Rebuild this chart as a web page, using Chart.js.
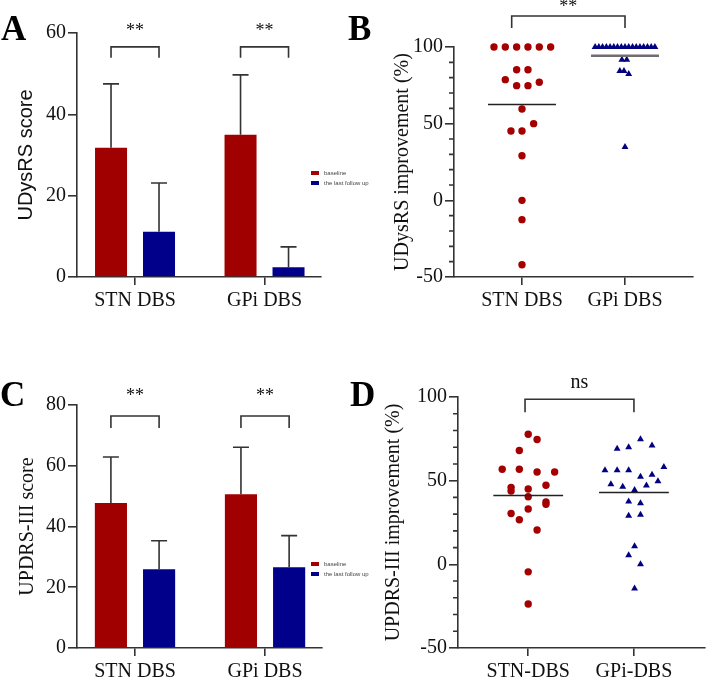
<!DOCTYPE html>
<html>
<head>
<meta charset="utf-8">
<script src="https://cdn.jsdelivr.net/npm/chart.js@4.4.1/dist/chart.umd.min.js"></script>
<style>
  body { margin: 0; background: #fff; width: 709px; height: 680px; position: relative; overflow: hidden; }
  canvas { position: absolute; }
  .letter { position: absolute; font: bold 35px/35px "Liberation Serif", "Times New Roman", serif; color: #000; z-index: 2; }
  .legend { position: absolute; font: 6px/10px "Liberation Sans", Arial, sans-serif; color: #444; white-space: nowrap; z-index: 2; }
  .legend i { display: inline-block; width: 8px; height: 4px; margin-right: 5px; vertical-align: middle; }
</style>
</head>
<body>
<canvas id="chartA" width="360" height="320" style="left:0;top:0"></canvas>
<canvas id="chartB" width="349" height="320" style="left:360px;top:0"></canvas>
<canvas id="chartC" width="360" height="350" style="left:0;top:330px"></canvas>
<canvas id="chartD" width="349" height="350" style="left:360px;top:330px"></canvas>

<div class="letter" style="left:1px;top:11px">A</div>
<div class="letter" style="left:348px;top:11px">B</div>
<div class="letter" style="left:0;top:377px">C</div>
<div class="letter" style="left:350px;top:377px">D</div>

<div class="legend" style="left:311px;top:168px">
  <div><i style="background:#a00000"></i>baseline</div>
  <div><i style="background:#00008b"></i>the last follow up</div>
</div>
<div class="legend" style="left:311px;top:559px">
  <div><i style="background:#a00000"></i>baseline</div>
  <div><i style="background:#00008b"></i>the last follow up</div>
</div>

<script>
// groups
const groupsBar = ['STN DBS', 'GPi DBS'];
const groupsB = ['STN DBS', 'GPi DBS'];
const groupsD = ['STN-DBS', 'GPi-DBS'];

// A: UDysRS score (mean, SD)
const udysBaseline = [31.8, 35.0];
const udysBaselineSD = [15.7, 14.7];
const udysFollowUp = [11.1, 2.4];
const udysFollowUpSD = [12.0, 5.0];

// C: UPDRS-III score (mean, SD)
const updrsBaseline = [47.7, 50.6];
const updrsBaselineSD = [15.2, 15.5];
const updrsFollowUp = [25.9, 26.6];
const updrsFollowUpSD = [9.4, 10.4];

// B: UDysRS improvement (%) per patient, plus horizontal jitter
const udysImpSTN = [100, 100, 100, 100, 100, 100, 85.2, 85.2, 78.7, 74.8, 74.8, 77.0,
                    59.6, 50.0, 45.2, 45.2, 29.1, 0, -12.6, -42.0];
const udysJitSTN = [-0.272, -0.162, -0.052, 0.058, 0.168, 0.278, -0.052, 0.058, -0.162, -0.052, 0.058, 0.168,
                    0, 0.113, -0.107, 0, 0, 0, 0, 0];
const udysImpGPi = [100, 100, 100, 100, 100, 100, 100, 100, 100, 100, 100, 100, 100, 100, 100, 100, 100,
                    91.7, 91.7, 84.3, 84.3, 82.4, 34.8];
const udysJitGPi = [-0.29, -0.254, -0.218, -0.181, -0.145, -0.109, -0.073, -0.036, 0, 0.036, 0.073, 0.109,
                    0.145, 0.181, 0.218, 0.254, 0.29, -0.03, 0.017, -0.05, -0.01, 0.036, 0];

// D: UPDRS-III improvement (%) per patient, plus horizontal jitter
const updrsImpSTN = [77.7, 74.6, 68.0, 56.8, 56.8, 55.2, 55.2, 46.0, 43.8, 45.0, 47.3, 40.4,
                     37.3, 35.9, 33.1, 30.4, 26.6, 20.5, -4.5, -23.7];
const updrsJitSTN = [0, 0.084, -0.084, -0.246, -0.084, 0.084, 0.25, -0.162, -0.162, 0, 0.168, 0,
                     0.168, 0.168, 0, -0.162, -0.084, 0.084, 0, 0];
const updrsImpGPi = [74.8, 69.0, 70.0, 71.0, 56.2, 56.2, 56.2, 58.2, 52.3, 53.6, 49.7, 47.9,
                     46.4, 44.4, 47.1, 37.5, 36.5, 29.0, 29.6, 10.8, 5.5, 0, -14.4];
const updrsJitGPi = [0.062, -0.159, -0.05, 0.171, -0.274, -0.159, -0.05, 0.283, 0.062, 0.171, 0.227, -0.218,
                     -0.106, 0.006, 0.118, -0.05, 0.062, -0.05, 0.062, 0.006, -0.05, 0.062, 0.006];

const serif = '"Liberation Serif", "Times New Roman", serif';
const sans = '"Liberation Sans", Arial, sans-serif';
const axisCol = '#333';
const red = '#a00000';
const blue = '#00008b';

Chart.defaults.font.family = serif;
Chart.defaults.animation = false;

// error bars, minor ticks and significance brackets
const annotate = {
  id: 'annotate',
  afterDraw(chart, args, o) {
    const ctx = chart.ctx, x = chart.scales.x, y = chart.scales.y;
    ctx.save();
    ctx.strokeStyle = axisCol;
    ctx.lineWidth = 1.6;
    chart.data.datasets.forEach((ds, di) => {
      if (!ds.sd) return;
      chart.getDatasetMeta(di).data.forEach((bar, i) => {
        const top = y.getPixelForValue(ds.data[i].y + ds.sd[i]);
        ctx.beginPath();
        ctx.moveTo(bar.x, bar.y);
        ctx.lineTo(bar.x, top);
        ctx.moveTo(bar.x - 8, top);
        ctx.lineTo(bar.x + 8, top);
        ctx.stroke();
      });
    });
    if (o.minor) {
      ctx.beginPath();
      for (let v = y.min; v <= y.max; v += o.minor) {
        if (v % 50 === 0) continue;
        const py = y.getPixelForValue(v);
        ctx.moveTo(x.left - 5, py);
        ctx.lineTo(x.left, py);
      }
      ctx.stroke();
    }
    (o.brackets || []).forEach(b => {
      let x1, x2;
      if (b.group !== undefined) {
        x1 = chart.getDatasetMeta(0).data[b.group].x;
        x2 = chart.getDatasetMeta(1).data[b.group].x;
      } else {
        x1 = x.getPixelForValue(b.from);
        x2 = x.getPixelForValue(b.to);
      }
      const yt = y.getPixelForValue(b.top), yb = y.getPixelForValue(b.drop);
      ctx.beginPath();
      ctx.moveTo(x1, yb);
      ctx.lineTo(x1, yt);
      ctx.lineTo(x2, yt);
      ctx.lineTo(x2, yb);
      ctx.stroke();
      ctx.fillStyle = '#111';
      ctx.font = b.font;
      ctx.textAlign = 'center';
      ctx.textBaseline = 'alphabetic';
      ctx.fillText(b.text, (x1 + x2) / 2, y.getPixelForValue(b.textY));
    });
    ctx.restore();
  }
};

function yAxis(o) {
  return {
    min: o.min, max: o.max,
    ticks: { stepSize: o.step, color: '#111', font: { family: serif, size: 20 }, padding: 2, callback: v => String(v) },
    grid: { drawOnChartArea: false, tickLength: 9, color: axisCol, lineWidth: 1.6 },
    border: { color: axisCol, width: 1.6 },
    title: { display: true, text: o.title, color: '#111', font: { family: o.titleFont || serif, size: 20 },
             padding: { top: o.titlePad, bottom: 0 } },
    afterFit: s => { s.width = o.width; }
  };
}

function xAxis(o) {
  return {
    type: 'linear', min: o.min, max: o.max, offset: false,
    afterBuildTicks: s => { s.ticks = o.labels.map((l, i) => ({ value: i + 1 })); },
    ticks: { color: '#111', font: { family: serif, size: 20 }, padding: 4, maxRotation: 0,
             callback: v => o.labels[Math.round(v) - 1] },
    grid: { offset: false, drawOnChartArea: false, tickLength: 8, color: axisCol, lineWidth: 1.6 },
    border: { color: axisCol, width: 1.6 },
    afterFit: s => { s.height = o.height; }
  };
}

function barChart(id, base, baseSD, follow, followSD, layout, yOpts, xOpts, ann) {
  return new Chart(document.getElementById(id), {
    type: 'bar',
    data: {
      datasets: [
        { label: 'baseline', data: base.map((v, i) => ({ x: i + 1, y: v })), sd: baseSD,
          backgroundColor: red, categoryPercentage: 0.741, barPercentage: 0.667 },
        { label: 'the last follow up', data: follow.map((v, i) => ({ x: i + 1, y: v })), sd: followSD,
          backgroundColor: blue, categoryPercentage: 0.741, barPercentage: 0.667 }
      ]
    },
    options: {
      responsive: false,
      layout: { padding: layout },
      plugins: { legend: { display: false }, tooltip: { enabled: false }, annotate: ann },
      scales: { x: xAxis(xOpts), y: yAxis(yOpts) }
    },
    plugins: [annotate]
  });
}

function mean(a) { return a.reduce((s, v) => s + v, 0) / a.length; }

function dotChart(id, stn, stnJit, gpi, gpiJit, meanStyles, layout, yOpts, xOpts, ann) {
  const pts = (vals, jit, c) => vals.map((v, i) => ({ x: c + jit[i], y: v }));
  const meanLine = (vals, c, st) => ({
    data: [{ x: c - 0.33, y: mean(vals) }, { x: c + 0.33, y: mean(vals) }],
    showLine: true, pointRadius: 0, borderColor: st.color, borderWidth: st.width, order: 0
  });
  return new Chart(document.getElementById(id), {
    type: 'scatter',
    data: {
      datasets: [
        { data: pts(stn, stnJit, 1), pointStyle: 'circle', pointRadius: 3.7, backgroundColor: '#a50000',
          borderWidth: 0, order: 1, clip: false },
        { data: pts(gpi, gpiJit, 2), pointStyle: 'triangle', pointRadius: 4, backgroundColor: '#000080',
          borderWidth: 0, order: 1, clip: false },
        meanLine(stn, 1, meanStyles[0]),
        meanLine(gpi, 2, meanStyles[1])
      ]
    },
    options: {
      responsive: false,
      layout: { padding: layout },
      plugins: { legend: { display: false }, tooltip: { enabled: false }, annotate: ann },
      scales: { x: xAxis(xOpts), y: yAxis(yOpts) }
    },
    plugins: [annotate]
  });
}

barChart('chartA', udysBaseline, udysBaselineSD, udysFollowUp, udysFollowUpSD,
  { left: 0, right: 39, top: 33, bottom: 0 },
  { min: 0, max: 60, step: 20, title: 'UDysRS score', titleFont: sans, titlePad: 14, width: 77 },
  { min: 0.552, max: 2.436, labels: groupsBar, height: 43 },
  { brackets: [
      { group: 0, top: 56.6, drop: 53.9, text: '**', textY: 59.3, font: '18px ' + serif },
      { group: 1, top: 56.6, drop: 53.9, text: '**', textY: 59.3, font: '18px ' + serif }
  ] });

dotChart('chartB', udysImpSTN, udysJitSTN, udysImpGPi, udysJitGPi,
  [{ color: '#222', width: 1.5 }, { color: '#6e6e6e', width: 2.5 }],
  { left: 0, right: 16, top: 47, bottom: 0 },
  { min: -50, max: 100, step: 50, title: 'UDysRS improvement (%)', titlePad: 31, width: 94 },
  { min: 0.34, max: 2.66, labels: groupsB, height: 43 },
  { minor: 10, brackets: [
      { from: 0.9, to: 2, top: 120.2, drop: 112.4, text: '**', textY: 122.8, font: '18px ' + serif }
  ] });

barChart('chartC', updrsBaseline, updrsBaselineSD, updrsFollowUp, updrsFollowUpSD,
  { left: 0, right: 38, top: 75, bottom: 0 },
  { min: 0, max: 80, step: 20, title: 'UPDRS-III score', titlePad: 16, width: 77 },
  { min: 0.554, max: 2.438, labels: groupsBar, height: 32 },
  { brackets: [
      { group: 0, top: 76.4, drop: 72.4, text: '**', textY: 81.3, font: '18px ' + serif },
      { group: 1, top: 76.4, drop: 72.4, text: '**', textY: 81.3, font: '18px ' + serif }
  ] });

dotChart('chartD', updrsImpSTN, updrsJitSTN, updrsImpGPi, updrsJitGPi,
  [{ color: '#222', width: 1.5 }, { color: '#222', width: 1.5 }],
  { left: 0, right: 1, top: 67, bottom: 0 },
  { min: -50, max: 100, step: 50, title: 'UPDRS-III improvement (%)', titlePad: 22, width: 98 },
  { min: 0.336, max: 2.672, labels: groupsD, height: 32 },
  { minor: 10, brackets: [
      { from: 0.97, to: 2, top: 98.7, drop: 90.9, text: 'ns', textY: 105.5, font: '20px ' + serif }
  ] });
</script>
</body>
</html>
